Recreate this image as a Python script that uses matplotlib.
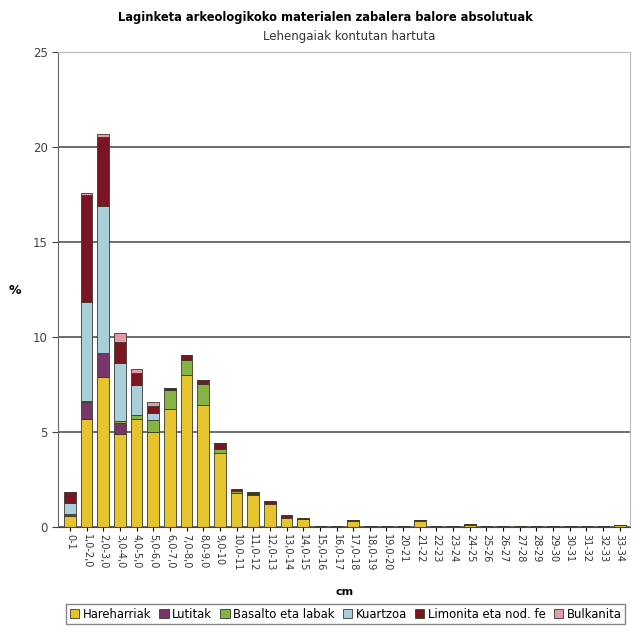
import numpy as np
import matplotlib.pyplot as plt

categories = ['0-1', '1,0-2,0', '2,0-3,0', '3,0-4,0', '4,0-5,0', '5,0-6,0',
              '6,0-7,0', '7,0-8,0', '8,0-9,0', '9,0-10', '10,0-11', '11,0-12',
              '12,0-13', '13,0-14', '14,0-15', '15,0-16', '16,0-17', '17,0-18',
              '18,0-19', '19,0-20', '20-21', '21-22', '22-23', '23-24', '24-25',
              '25-26', '26-27', '27-28', '28-29', '29-30', '30-31', '31-32',
              '32-33', '33-34']

hareharriak = [0.6, 5.7, 7.9, 4.9, 5.7, 5.0, 6.2, 8.0, 6.4, 3.9, 1.8, 1.7,
               1.2, 0.5, 0.4, 0.04, 0.04, 0.3, 0.04, 0.04, 0.04, 0.3, 0.04, 0.04,
               0.12, 0.04, 0.04, 0.04, 0.04, 0.04, 0.04, 0.04, 0.04, 0.1]
lutitak = [0.1, 0.9, 1.25, 0.6, 0, 0, 0, 0, 0, 0, 0, 0,
           0, 0, 0, 0, 0, 0, 0, 0, 0, 0, 0, 0,
           0, 0, 0, 0, 0, 0, 0, 0, 0, 0]
basalto = [0, 0.05, 0, 0.1, 0.2, 0.65, 1.0, 0.8, 1.15, 0.2, 0.1, 0.05,
           0.05, 0.05, 0.05, 0, 0, 0.05, 0, 0, 0, 0.05, 0, 0,
           0.03, 0, 0, 0, 0, 0, 0, 0, 0, 0]
kuartzoa = [0.55, 5.2, 7.75, 3.05, 1.6, 0.35, 0, 0, 0, 0, 0, 0,
            0, 0, 0, 0, 0, 0, 0, 0, 0, 0, 0, 0,
            0, 0, 0, 0, 0, 0, 0, 0, 0, 0]
limonita = [0.6, 5.6, 3.6, 1.1, 0.6, 0.35, 0.1, 0.25, 0.2, 0.3, 0.1, 0.1,
            0.1, 0.08, 0.05, 0, 0, 0.02, 0, 0, 0, 0.02, 0, 0,
            0, 0, 0, 0, 0, 0, 0, 0, 0, 0.02]
bulkanita = [0.02, 0.1, 0.2, 0.45, 0.2, 0.25, 0, 0, 0, 0, 0, 0,
             0, 0, 0, 0, 0, 0, 0, 0, 0, 0, 0, 0,
             0, 0, 0, 0, 0, 0, 0, 0, 0, 0]

series = [
    ('Hareharriak', hareharriak, '#E6C42E'),
    ('Lutitak', lutitak, '#7A3568'),
    ('Basalto eta labak', basalto, '#86B444'),
    ('Kuartzoa', kuartzoa, '#A9CFDA'),
    ('Limonita eta nod. fe', limonita, '#7B1423'),
    ('Bulkanita', bulkanita, '#E79AAE'),
]

fig = plt.figure(figsize=(6.4, 6.32), dpi=100)
ax = fig.add_axes([0.091, 0.166, 0.893, 0.752])

x = np.arange(len(categories))
bottom = np.zeros(len(categories))
for name, vals, color in series:
    vals = np.array(vals)
    ax.bar(x, vals, width=0.7, bottom=bottom, color=color, edgecolor='#3a3a2a',
           linewidth=0.6, label=name)
    bottom += vals

ax.set_ylim(0, 25)
ax.set_xlim(-0.7, 33.6)
ax.set_yticks([0, 5, 10, 15, 20, 25])
ax.yaxis.grid(True, color='#555555', linewidth=1.2)
ax.set_axisbelow(True)
ax.set_xticks(x)
ax.set_xticklabels(categories, rotation=270, fontsize=7, color='#333333')
ax.tick_params(axis='y', labelsize=8.5, colors='#444444', length=4)
ax.tick_params(axis='x', length=3, pad=2)
for s in ['top', 'right']:
    ax.spines[s].set_color('#bbbbbb')
ax.spines['left'].set_color('#666666')
ax.spines['bottom'].set_color('#444444')

fig.text(15 / 640, 1 - 290 / 632, '%', ha='center', va='center',
         fontsize=9, fontweight='bold')
fig.text(345 / 640, 1 - 592 / 632, 'cm', ha='center', va='center',
         fontsize=8, fontweight='bold')

fig.text(0.508, 0.972, 'Laginketa arkeologikoko materialen zabalera balore absolutuak',
         ha='center', va='center', fontsize=8.3, fontweight='bold')
fig.text(0.545, 0.943, 'Lehengaiak kontutan hartuta', ha='center', va='center',
         fontsize=8.5, color='#333333')

fig.legend(loc='lower center', bbox_to_anchor=(0.54, 0.003),
           ncol=6, fontsize=8.4, frameon=True, fancybox=False, edgecolor='#666666',
           handlelength=0.8, handleheight=0.8, handletextpad=0.3, columnspacing=0.7,
           borderpad=0.3)

fig.savefig('out.png', dpi=100)
